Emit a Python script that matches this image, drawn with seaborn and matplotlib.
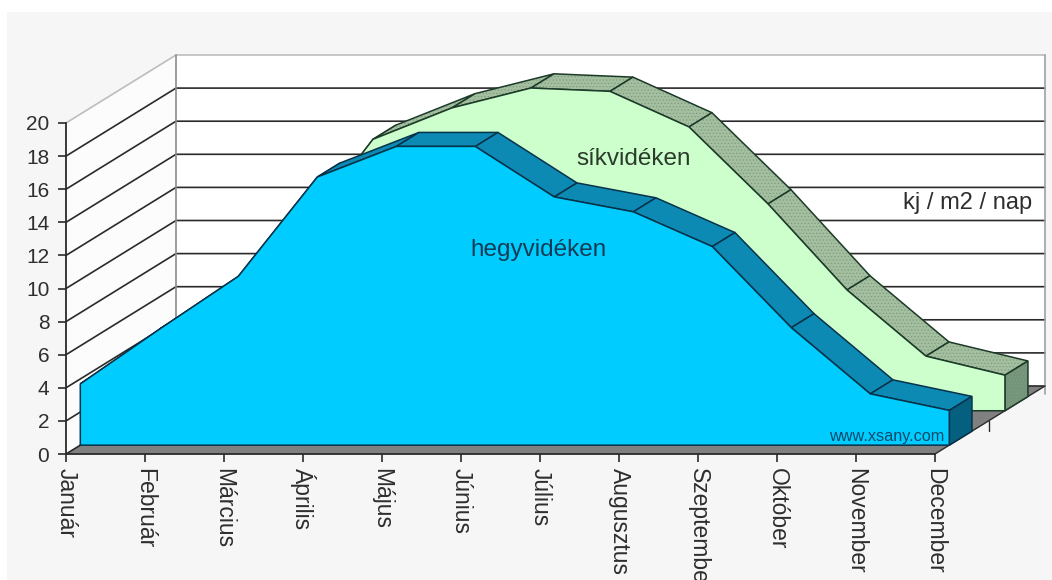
import matplotlib
matplotlib.use('Agg')
import matplotlib.pyplot as plt
from matplotlib.patches import Rectangle
import numpy as np
import seaborn as sns

months = ['Január', 'Február', 'Március', 'Április', 'Május', 'Június',
          'Július', 'Augusztus', 'Szeptember', 'Október', 'November', 'December']
hegy = [3.7, 7.0, 10.2, 16.2, 18.05, 18.05, 15.0, 14.1, 12.0, 7.1, 3.1, 2.1]
sik = [3.7, 7.0, 10.2, 16.4, 18.3, 19.5, 19.3, 17.15, 12.5, 7.3, 3.3, 2.15]
y_ticks = list(range(0, 21, 2))

W, H = 1052, 580
AX_L, AX_R, AX_B, AX_T = 66, 935, 454, 123

# depth of the fake 3d box, in data units
DX = 110 / 79
DY = 68 / 16.55

sns.set_theme(style='ticks')
plt.rcParams['font.family'] = ['Liberation Sans', 'DejaVu Sans']
plt.rcParams['hatch.linewidth'] = 0.5
TXT = '#2e2e2e'
LINE = '#2a2a2a'


def prj(x, y, d):
    return np.asarray(x, dtype=float) + d * DX, np.asarray(y, dtype=float) + d * DY


def seg(ax, x, y, color=LINE, lw=1.2, z=2):
    sns.lineplot(x=x, y=y, ax=ax, color=color, linewidth=lw, estimator=None,
                 sort=False, clip_on=False, zorder=z)


def poly(ax, x, y, face, edge, hatch, hatch_col, z):
    # hatch colour comes from edgecolor, so the outline is a second layer
    ax.fill(x, y, facecolor=face, edgecolor=hatch_col, hatch=hatch, linewidth=0,
            clip_on=False, zorder=z)
    ax.fill(x, y, facecolor='none', edgecolor=edge, linewidth=1.1, clip_on=False, zorder=z)


def draw_series(ax, vals, d0, d1, face, top, side, edge, z, hatch=None, hatch_col='none'):
    xs = np.arange(len(vals))
    fx, fy = prj(xs, vals, d0)
    rx, ry = prj(xs, vals, d1)
    bx, by = prj(xs, np.zeros(len(vals)), d0)
    # top facets
    for i in range(len(vals) - 1):
        poly(ax, [fx[i], fx[i + 1], rx[i + 1], rx[i]], [fy[i], fy[i + 1], ry[i + 1], ry[i]],
             top, edge, hatch, hatch_col, z)
    # end cap
    ebx, eby = prj(xs[-1], 0, d1)
    poly(ax, [fx[-1], rx[-1], ebx, bx[-1]], [fy[-1], ry[-1], eby, by[-1]],
         side, edge, hatch, hatch_col, z)
    # front face
    ax.fill(np.r_[bx[0], fx, bx[-1]], np.r_[by[0], fy, by[-1]],
            facecolor=face, edgecolor='none', clip_on=False, zorder=z + 0.1)
    seg(ax, np.r_[bx[0], fx, bx[-1], bx[0]], np.r_[by[0], fy, by[-1], by[0]],
        color=edge, lw=1.1, z=z + 0.2)


fig = plt.figure(figsize=(W / 100, H / 100), dpi=100, facecolor='white')
fig.patches.append(Rectangle((7 / W, 0), 1 - 7 / W, 1 - 12 / H, transform=fig.transFigure,
                             facecolor='#f6f6f6', edgecolor='none', zorder=-5))
ax = fig.add_axes([AX_L / W, 1 - AX_B / H, (AX_R - AX_L) / W, (AX_B - AX_T) / H])
ax.patch.set_alpha(0)

n = len(months) - 1
ymax = y_ticks[-1]

# walls and floor
ax.fill([0, DX, DX, 0], [0, DY, ymax + DY, ymax], facecolor='#fcfcfc', edgecolor='none',
        clip_on=False, zorder=0)
ax.fill([DX, n + DX, n + DX, DX], [DY, DY, ymax + DY, ymax + DY], facecolor='white',
        edgecolor='none', clip_on=False, zorder=0)
ax.fill([0, n, n + DX, DX], [0, 0, DY, DY], facecolor='#808080', edgecolor='none',
        clip_on=False, zorder=0.5)

# gridlines
for v in y_ticks:
    col = '#bdbdbd' if v == ymax else LINE
    seg(ax, [0, DX, n + DX], [v, v + DY, v + DY], color=col, lw=1.2, z=1)
seg(ax, [DX, DX], [DY, ymax + DY], color='#8c8c8c', lw=1.2, z=1)
seg(ax, [n + DX, n + DX], [DY - 0.5, ymax + DY], color='#a0a0a0', lw=1.2, z=1)

# depth axis on the floor
seg(ax, [n, n + DX], [0, DY], color=LINE, lw=1.0, z=1.5)
mx, my = prj(n, 0, 0.49)
seg(ax, [mx, mx], [my, my - 0.6], color=LINE, lw=1.0, z=1.5)

draw_series(ax, sik, 0.636, 0.845, '#ccffcc', '#a3bf9f', '#75957a', '#1c3a28', 3,
            hatch='.....', hatch_col='#7f9c80')
draw_series(ax, hegy, 0.13, 0.336, '#00ccff', '#0d8ab3', '#05607f', '#06324a', 5)

ax.set_xlim(0, n)
ax.set_ylim(0, ymax)
ax.set_xticks(range(len(months)))
ax.set_xticklabels(months, rotation=-90, ha='center', va='top', fontsize=16.5, color=TXT)
ax.set_yticks(y_ticks)
ax.set_yticklabels(y_ticks, fontsize=15, color=TXT)
ax.tick_params(axis='x', length=6, width=1.2, color=LINE, pad=4)
ax.tick_params(axis='y', length=6, width=1.2, color=LINE, pad=6)
ax.set_xlabel('')
ax.set_ylabel('')
sns.despine(ax=ax, top=True, right=True)
for s in ['left', 'bottom']:
    ax.spines[s].set_color(LINE)
    ax.spines[s].set_linewidth(1.3)
    ax.spines[s].set_zorder(2)

# labels inside the chart
fig.text(634 / W, 1 - 159 / H, 'síkvidéken', ha='center', va='center', fontsize=17.5, color='#2b3a2b')
fig.text(539 / W, 1 - 250 / H, 'hegyvidéken', ha='center', va='center', fontsize=17.5, color='#123c55')
fig.text(968 / W, 1 - 203 / H, 'kj / m2 / nap', ha='center', va='center', fontsize=17, color=TXT)
fig.text(887 / W, 1 - 436 / H, 'www.xsany.com', ha='center', va='center', fontsize=11.7, color='#0b4a6a')

plt.savefig('out.png', dpi=100)
plt.close()
